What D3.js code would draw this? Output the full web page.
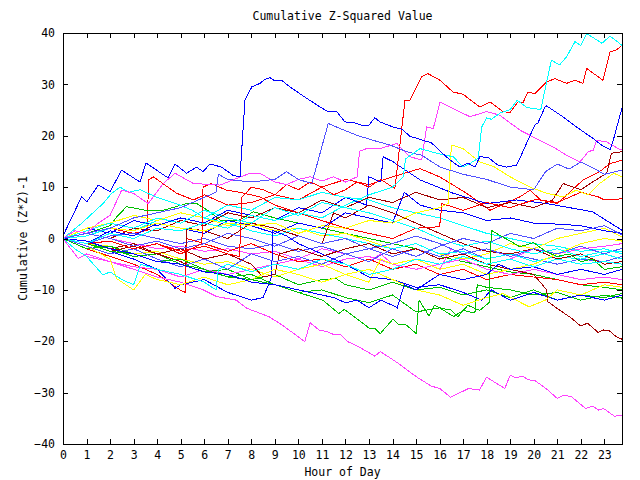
<!DOCTYPE html>
<html>
<head>
<meta charset="utf-8">
<script src="https://cdnjs.cloudflare.com/ajax/libs/d3/7.8.5/d3.min.js"></script>
<style>
  html, body { margin: 0; padding: 0; background: #fff; }
  svg { display: block; }
  text { font-family: "DejaVu Sans Mono", "Liberation Mono", monospace; font-size: 11.5px; fill: #000; }
</style>
</head>
<body>
<svg id="chart" width="640" height="480"></svg>
<script>
// ---------- DATA (hour of day, cumulative (Z*Z)-1) ----------
const chartTitle = "Cumulative Z-Squared Value";
const xTitle = "Hour of Day";
const yTitle = "Cumulative (Z*Z)-1";
const hourTicks = [0,1,2,3,4,5,6,7,8,9,10,11,12,13,14,15,16,17,18,19,20,21,22,23];
const valueTicks = [-40,-30,-20,-10,0,10,20,30,40];

const blueA = [[0,0.5],[0.79,8.1],[1.01,7.1],[1.5,10.4],[2.0,9.1],[2.49,13.3],[3.27,11.0],[3.53,14.7],[4.46,11.8],[4.76,14.5],[5.25,12.7],[5.68,13.9],[5.95,13.0],[6.24,14.5],[6.74,13.9],[7.22,12.3],[7.52,12.0],[7.63,19.8],[7.73,26.9],[8.02,29.5],[8.37,30.2],[8.58,31.0],[8.79,31.3],[9.0,30.7],[9.29,30.8],[9.64,29.5],[10.35,27.3],[10.92,25.6],[11.26,24.7],[11.63,24.7],[11.98,22.7],[12.4,22.5],[12.76,21.9],[12.97,21.9],[13.25,23.5],[13.47,22.7],[14.02,21.7],[14.39,21.3],[14.74,19.9],[15.17,19.3],[15.66,18.6],[16.02,17.0],[16.44,15.3],[16.86,13.9],[17.2,14.7],[17.5,13.9],[17.71,15.9],[18.05,15.8],[18.48,14.3],[18.85,13.9],[19.27,14.3],[19.41,15.6],[19.7,18.6],[20.05,22.1],[20.18,22.5],[20.48,25.6],[20.55,25.8],[21.24,23.7],[21.82,21.7],[22.51,19.5],[22.88,18.2],[23.24,17.3],[23.36,18.8],[23.75,25.4]];
const redB = [[0,0],[1,-1],[2,-0.5],[3,-2],[4,-1],[5,-2.5],[6,-1.5],[7,-3],[7.5,-3.5],[7.6,8],[8,10],[8.5,9.5],[9,8.5],[9.5,10.5],[10,9.5],[10.5,11],[11,10],[11.5,8.5],[12,9.5],[12.5,11],[13,10],[13.5,11.5],[14.1,9.7],[14.53,26.9],[14.74,26.9],[15.24,31.5],[15.5,32.1],[16.02,30.8],[16.57,28.5],[16.99,28.1],[17.71,25.6],[18.14,26.6],[18.69,24.7],[18.99,24.5],[19.33,26.6],[19.54,26.4],[19.75,28.5],[20.05,28.2],[20.55,30.5],[20.9,31.1],[21.4,30.2],[21.75,30.8],[22.09,30.2],[22.25,33.1],[22.94,30.8],[23.24,36.3],[23.52,36.7],[23.75,37.6]];
const cyanC = [[0,0],[1,-1],[2,1],[3,0],[4,2],[5,1.5],[6,3],[7,2],[8,4.5],[9,3.5],[10,5],[11,4],[12,6.5],[13,8.5],[14,10],[14.46,12],[14.55,15.5],[15.17,17.5],[15.88,16.6],[16.58,15.9],[17.0,13.9],[17.29,14.6],[17.64,15.6],[17.79,21.7],[18.0,23.5],[18.2,23.2],[18.6,24.5],[19.0,25.1],[19.3,26.9],[19.7,25.5],[20.3,25.1],[20.55,30.5],[20.75,34.7],[21.1,33.8],[21.4,35.4],[21.75,38.3],[22.0,37.6],[22.25,39.9],[22.9,38.0],[23.24,39.4],[23.75,37.6]];
const magentaD = [[0,0],[0.5,1.5],[1,1],[1.5,3],[2,4.5],[2.49,9.4],[2.99,8.8],[3.62,6.8],[4.26,10.7],[4.76,12.7],[5.54,10.7],[6.67,10.4],[7.94,12.7],[8.37,12.7],[9,11],[9.5,10.5],[10,11.5],[10.5,12],[11,11.2],[11.5,12],[12,11],[12.5,12],[12.6,17],[12.9,17.5],[13.47,17.5],[14.18,18.5],[14.74,15.9],[15.24,15.3],[15.45,21.7],[15.73,21.4],[16.02,26.6],[16.58,25.3],[17.29,23.7],[18.0,24.7],[18.56,24.0],[19.41,21.1],[20.26,19.1],[20.83,17.8],[21.4,16.2],[21.96,14.9],[22.32,16.9],[22.53,17.2],[22.67,19.1],[23.1,18.8],[23.66,17.3],[23.75,17.4]];
const lightBlueE = [[0,0],[1,1],[2,2],[3,4],[4,5],[5,6],[6,8],[6.5,9],[6.6,12.5],[7,11.5],[8,11],[9,11.5],[9.5,13],[10,11.5],[10.57,10.7],[11.27,22.4],[11.77,21.4],[12.48,20.1],[13.18,19.1],[13.89,18.2],[14.6,16.9],[15.24,16.2],[16.02,13.9],[17,12.5],[18,11.5],[19,10],[20,9.5],[20.5,13],[21,14.5],[21.5,13.5],[22,14.9],[22.5,13.8],[23,12.5],[23.75,13.3]];
const magentaF = [[0,0],[0.5,-2],[1,-3.5],[2,-4.5],[3,-6],[4,-7.5],[5,-8.5],[5.96,-10],[6.53,-11.3],[7.36,-12.0],[7.82,-13.6],[8.74,-15.2],[9.2,-16.5],[9.81,-18.5],[10.27,-20.1],[10.5,-16.4],[10.88,-17.8],[11.27,-18.2],[11.5,-18.7],[11.8,-18.7],[12.11,-20.1],[12.57,-21.1],[13.25,-22.9],[13.48,-22.0],[14.25,-24.3],[15.01,-26.9],[15.63,-28.7],[16.01,-29.2],[16.47,-30.9],[17.23,-29.2],[17.69,-29.5],[18.0,-27.0],[18.77,-29.2],[19.0,-26.6],[19.23,-27.1],[19.53,-26.8],[19.76,-27.5],[20.07,-27.7],[20.6,-29.5],[20.99,-31.1],[21.29,-30.5],[21.6,-30.8],[22.21,-33.1],[22.51,-32.6],[22.74,-33.4],[22.97,-33.1],[23.43,-34.6],[23.75,-34.4]];
const darkRedG = [[0,0],[1,-1],[2,-2.5],[3,-1.5],[4,-3],[5,-2],[6,-4],[7,-3],[8,-5],[8.5,-7.5],[9,-7],[9.2,-3],[10,-2],[11,-3.5],[12,-2],[13,-1],[14,-3],[15,-2],[16,-4],[17,-3],[18,-5],[19,-6],[20,-7],[20.55,-10],[20.6,-12.3],[20.99,-13.6],[21.6,-15.5],[21.98,-17.0],[22.29,-16.5],[22.74,-18.3],[22.97,-17.8],[23.2,-17.9],[23.5,-19.1],[23.75,-19.6]];
const greenH = [[0,0],[1,-1],[2,-2.5],[3,-3],[4,-4.5],[5,-5],[6,-6],[7,-7.5],[8,-8],[9,-9],[10,-10.5],[11.04,-12],[11.72,-14.6],[11.95,-13.8],[12.57,-15.9],[13.02,-17.5],[13.25,-17.5],[13.48,-18.5],[14.02,-15.7],[14.25,-16.7],[14.55,-16.7],[15.01,-18.5],[15.13,-12],[15.55,-15.1],[15.78,-13],[16.08,-13.6],[16.47,-13.9],[16.78,-15.2],[17.2,-13],[17.7,-14],[18.1,-12.5],[18.2,1.6],[18.6,0.5],[19.0,-0.5],[19.41,-1.6],[20,-0.8],[20.5,-2.5],[21,-3.5],[21.5,-3],[22,-4.5],[22.5,-4],[23,-6],[23.75,-5.5]];
const yellowI = [[0,0],[1,1],[2,2],[3,1.5],[4,3],[5,2],[6,1.5],[7,3],[8,2.5],[9,3],[10,1],[11,2.5],[12,2],[13,3.5],[14,3],[15,5],[16,6],[16.37,6.8],[16.5,18.2],[17,17.5],[17.7,14.9],[18.3,14],[19,12],[19.84,10],[20.55,8.8],[21.25,8.1],[21.8,9.4],[22.3,8.5],[22.8,10.7],[23.4,12.7],[23.75,12]];
const blueJ = [[0,0],[1,2],[2,1],[3,3.5],[4,2.5],[5,4],[6,3],[7,5.5],[8,4.5],[9,3.5],[10,6],[11,5],[12,8],[12.9,6.5],[13,12],[13.5,11],[13.6,15.9],[14,15],[15.17,11.4],[16.58,8.8],[18,6.8],[19.27,7.5],[20.55,6.8],[22.5,5.2],[23.75,1.6]];
const blueK = [[0,0],[1,-1],[2,1.5],[3,0.5],[4,3],[5,2],[6,1],[7,3.5],[8,2.5],[9,1],[10,3],[11,2],[12,5],[13,4],[14,3],[14.5,9],[15.17,6.5],[16,5.5],[17,5],[18,3.5],[19,4],[20,3],[21,2.8],[22,2.5],[23,1.5],[23.75,1]];
const lightBlueL = [[0,0],[1,-1.5],[2,-3],[3,-2],[4,-4],[5,-5.5],[6,-4],[7,-6],[8,-3],[9,-4.5],[10,-3.5],[11,-5],[12,-3],[13,-4.5],[14,-2],[15,-3.5],[16,-1.5],[17,0],[18,-1],[19,1],[20,0],[21,2],[22,1.5],[23,2.5],[23.75,0.7]];
const lightBlueM = [[0,0],[1,1],[2,0],[3,-1.5],[4,-0.5],[5,-2],[6,-1],[7,1],[8,0],[9,-1.5],[10,0.5],[11,-1],[12,0],[13,-2],[14,-1],[15,0.5],[16,-1],[17,-3],[18,-2],[19,-3.5],[20,-2],[21,-3],[22,-1.5],[23,-3],[23.75,-1.9]];
const cyanN = [[0,0],[1,1.5],[2,3],[3,2],[4,4],[5,3],[6,5.5],[7,4],[8,3],[9,6],[10,4.5],[11,7],[12,6],[13,5],[14,3.5],[15,2],[16,0],[17,-1.5],[18,-0.5],[19,-2],[20,-3],[21,-2],[22,-3.5],[23,-2.5],[23.75,-2.6]];
const darkRedO = [[0,0],[1,-0.5],[2,-2],[3,-1],[4,-3],[5,-4.5],[5.2,-5],[5.25,2],[6,1.5],[7,0],[8,3],[9,2],[10,0.5],[11,-1],[11.5,5],[12,4],[13,6.5],[14,5],[15,3],[16,1],[17,-1],[18,-2.5],[19,-3],[20,-2],[21,-4],[22,-3],[23,-5],[23.75,-4.5]];
const greenP = [[0,0],[1,-1],[2,-2],[3,-3.5],[4,-3],[5,-5],[6,-6.5],[7,-6],[8,-8],[9,-7],[10,-9],[11,-8],[11.6,-7.8],[12,-9],[13,-10],[14,-8.5],[15,-10],[16,-9.5],[17,-11],[18,-10],[19,-11.5],[20,-10],[21,-12],[22,-11],[23,-11.5],[23.75,-10.7]];
const greenQ = [[0,0],[1,-2],[2,-1.5],[3,-3],[4,-4.5],[5,-4],[6,-6],[7,-7.5],[8,-7],[9,-9],[10,-10.5],[11,-10],[12,-11.5],[13,-12.5],[14,-11],[15,-14.3],[16,-13.5],[16.6,-15.2],[17,-14],[17.5,-14.5],[17.6,-9],[18,-9.5],[19,-10],[20,-11],[21,-10.5],[22,-12],[23,-11],[23.75,-11.6]];
const yellowR = [[0,0],[1,-1.5],[2,-4],[2.28,-7.8],[3,-10],[3.5,-7],[4,-8],[5,-9],[6,-7.5],[7,-9],[8,-8],[9,-6],[10,-7],[11,-8.5],[12,-7],[13,-6],[14,-8],[15,-10],[16,-11],[17,-13],[18,-11.5],[18.7,-10.7],[19.8,-13.3],[20.5,-12],[21,-10],[22,-11],[23,-9],[23.75,-9.5]];
const redS = [[0,0],[1,-2],[2,-3.5],[3,-5],[4,-7],[4.97,-10],[5.2,-10.5],[5.25,0],[6,-1],[7,-2.5],[8,-1],[9,-3],[10,-4.5],[11,-4],[12,-5.5],[13,-4],[14,-6],[15,-5],[16,-7],[17,-6],[18,-8],[19,-7],[20,-7.5],[21,-8],[22,-9],[23,-8.5],[23.75,-9]];
const blueT = [[0,0],[1,-1],[2,-2.5],[3,-4],[4,-6],[4.76,-9.7],[5,-9],[6,-8],[7,-10.5],[8,-12],[8.5,-11.5],[8.87,-7.4],[8.9,1.6],[9.5,0.5],[10,-1],[11,-3],[12,-5],[13,-7.5],[14,-8],[15,-9.5],[16,-9],[17,-10.5],[17.8,-12],[18.2,-10],[19,-12],[20,-10.5],[21,-12],[22,-11],[23,-12],[23.75,-11]];
const blueU = [[0,0],[1,-0.5],[2,-2],[3,-3],[4,-4.5],[5,-5],[6,-6.5],[7,-7],[8,-8.5],[9,-9],[10,-10],[11,-11],[11.5,-11.5],[12,-12.5],[12.5,-12],[13,-13.5],[13.5,-12],[14,-13],[14.2,-13.5],[14.5,-9],[15,-10],[16,-7],[17,-8],[18,-7],[18.5,-5],[19,-6],[20,-5.5],[21,-7],[22,-6],[23,-7],[23.75,-6]];
const cyanV = [[0,0],[0.5,-2],[1,-3.5],[1.7,-7.1],[2,-6.5],[2.5,-8],[3,-9],[3.3,-5],[4,-6],[5,-7],[6,-8.5],[6.5,-10],[6.6,-6],[7,-5],[8,-6.5],[9,-5],[10,-6],[11,-4],[12,-5],[13,-7],[14,-6],[15,-4],[16,-5],[17,-3.5],[18,-5],[19,-4],[20,-5.5],[21,-4],[22,-5],[23,-4.5],[23.75,-5]];
const magentaW = [[0,0],[1,1],[2,0],[3,-1],[4,-2],[5,-1.5],[6,-2.5],[7,-2],[8,-3],[9,-2.5],[10,-4],[11,-2],[12,-3],[13,-4.5],[13.5,-3],[14,-5],[15,-4],[16,-6],[16.5,-2],[17,-3],[18,-5],[19,-4],[20,-2],[21,-3],[22,-2],[23,-1.5],[23.75,-1]];
const yellowX = [[0,0],[1,2],[2,3],[3,4.5],[4,3.5],[5,5],[6,4],[7,2.5],[8,3],[9,1.5],[10,2],[11,0.5],[12,1],[13,-0.5],[14,-2],[15,-1],[16,-3],[17,-4],[18,-3],[19,-1],[20,-2],[21,0],[22,1],[23,2],[23.75,0.3]];
const greenY = [[0,0],[1,1],[2,2.5],[2.28,4.2],[2.7,6.2],[3.5,5.5],[4.27,5.5],[5.25,6.8],[5.68,6.8],[6.24,5.2],[6.67,3.6],[7.5,3.6],[8.09,5.2],[9,4],[10,3],[11,2],[12,1],[13,0],[14,-1],[15,-2],[16,-3.5],[17,-4.5],[18,-5.5],[19,-6.5],[20,-7],[21,-8],[22,-9],[23,-9.5],[23.75,-10]];
const cyanZ = [[0,0],[0.8,3],[1.7,6.8],[2.07,8.8],[2.42,10],[2.8,9],[3.27,9.5],[4,8],[4.8,6.8],[5.5,5.5],[6,4],[7,3],[8,1.5],[9,0.5],[10,2],[11,1],[12,0],[13,-1],[14,-2],[15,-1],[16,-3],[17,-2.5],[18,-4],[19,-3],[20,-4.5],[21,-3.5],[22,-4],[23,-3],[23.75,-4]];
const lightBlueAA = [[0,0],[1,-1],[2,0.5],[3,1],[4,0],[5,-1],[6,0],[7,-1.5],[8,-2],[9,-1],[10,-2.5],[11,-1.5],[12,-3],[13,-2],[14,-3.5],[15,-2],[16,-3.5],[17,-2],[18,-4],[19,-3],[20,-4],[21,-5],[22,-4],[23,-4.5],[23.75,-3.5]];
const redAB = [[0,0],[1,0.5],[2,2],[3,1],[3.6,1.6],[3.62,11.4],[3.84,12],[4.83,8.8],[5.54,7.5],[6,8.5],[7,6.5],[8,7],[9,8.5],[10,7.5],[11,10],[12,11.5],[13,10.5],[14,12],[15.17,13.6],[16,12],[17.15,8.8],[18.14,5.5],[19.41,8.1],[19.84,9.4],[20.3,7.5],[21,6.8],[22.1,11.4],[22.67,12.7],[22.88,13.3],[23.24,14.6],[23.52,14.9],[23.75,15.3]];
const redAC = [[0,0],[1,-1],[2,-0.5],[3,-2],[4,-1],[5,-3],[5.9,-1],[5.95,10],[6.3,10.7],[6.95,9.4],[7.5,9],[8.37,8.1],[9,6.5],[10,5],[11,3.5],[12,2],[13,1],[14,0],[15,2],[16,2.3],[16.1,6.8],[17,5.5],[18,7],[19,6],[20,7.5],[20.26,7.5],[21,7],[22,9],[22.74,8.1],[23.0,7.5],[23.45,7.5],[23.75,7.8]];
const darkRedAD = [[0,0],[1,1],[2,0],[3,2],[4,1.5],[5,3.5],[6,2.5],[7,5],[8,4],[9,6],[10,5],[11,7.5],[12,6],[13,8],[14,7],[15,9],[16,7.5],[17,8],[18,6],[19,7],[20,6],[20.8,7.5],[21.25,10.7],[22,9.5],[22.5,11],[23.1,12.7],[23.3,16.6],[23.75,16.9]];
const yellowAE = [[0,0],[1,-1],[2,-1.5],[3,-3],[4,-2.5],[5,-4],[6,-5],[7,-4.5],[8,-6],[9,-7.5],[10,-6],[11,-5],[12,-7],[13,-8.5],[13.5,-4],[14,-5],[15,-4],[16,-6],[17,-5],[18,-7],[19,-6],[20,-5],[21,-3],[22,-1],[23,0],[23.75,-0.5]];
const cyanAF = [[0,0],[1,0.5],[2,2],[3,1.5],[4,3.5],[5,5],[6,4],[7,6.5],[8,5.5],[9,8],[10,7.5],[11,9],[12,8],[13,7.5],[14,6],[15,5],[16,4],[17,2.5],[18,1],[19,0],[20,-1],[21,-1.5],[22,-2.5],[23,-2],[23.75,-3]];
const magentaAG = [[0,0],[0.65,-3.9],[1,-3],[2,-4.5],[3,-5.5],[4,-6],[5,-7.5],[6,-6],[7,-7],[8,-6],[9,-5],[10,-4],[11,-5.5],[12,-4],[13,-3.5],[14,-5],[15,-6],[16,-5],[17,-4],[18,-6],[19,-7],[20,-6],[21,-7],[22,-8],[23,-7.5],[23.75,-8]];

const seriesList = [redAB, greenY, blueJ, magentaW, cyanAF, darkRedAD, yellowX, lightBlueAA,
  redS, greenP, blueK, magentaAG, cyanZ, darkRedO, yellowAE, lightBlueM,
  redAC, greenQ, blueT, magentaF, cyanN, darkRedG, yellowR, lightBlueL,
  redB, greenH, blueU, magentaD, cyanV, yellowI, lightBlueE, cyanC, blueA];
const seriesColors = ["#ff0000","#00c000","#0000ff","#ff40ff","#00ffff","#a00000","#ffff00","#5050ff",
  "#ff0000","#00c000","#0000ff","#ff40ff","#00ffff","#a00000","#ffff00","#5050ff",
  "#ff0000","#00c000","#0000ff","#ff40ff","#00ffff","#a00000","#ffff00","#5050ff",
  "#ff0000","#00c000","#0000ff","#ff40ff","#00ffff","#ffff00","#5050ff","#00ffff","#0000ff"];

// ---------- CHART ----------
const svg = d3.select("#chart");
const mL = 63, mR = 622, mT = 33, mB = 444;
const x = d3.scaleLinear().domain([0, 23.75]).range([mL, mR]);
const y = d3.scaleLinear().domain([-40, 40]).range([mB, mT]);

svg.append("defs").append("clipPath").attr("id", "plotclip")
  .append("rect").attr("x", mL).attr("y", mT).attr("width", mR - mL).attr("height", mB - mT);

const line = d3.line().x(d => x(d[0])).y(d => y(d[1]));
const g = svg.append("g").attr("clip-path", "url(#plotclip)");
seriesList.forEach((s, i) => {
  g.append("path").datum(s)
    .attr("d", line)
    .attr("fill", "none")
    .attr("stroke", seriesColors[i])
    .attr("stroke-width", 1)
    .attr("shape-rendering", "crispEdges");
});

// axes with inward ticks
const axB = svg.append("g").attr("transform", `translate(0,${mB})`)
  .call(d3.axisBottom(x).tickValues(hourTicks).tickSizeInner(-5).tickSizeOuter(0).tickPadding(7).tickFormat(d3.format("d")));
const axT = svg.append("g").attr("transform", `translate(0,${mT})`)
  .call(d3.axisTop(x).tickValues(hourTicks).tickSizeInner(-5).tickSizeOuter(0).tickFormat(""));
const axL = svg.append("g").attr("transform", `translate(${mL},0)`)
  .call(d3.axisLeft(y).tickValues(valueTicks).tickSizeInner(-5).tickSizeOuter(0).tickPadding(8).tickFormat(d3.format("d")));
const axR = svg.append("g").attr("transform", `translate(${mR},0)`)
  .call(d3.axisRight(y).tickValues(valueTicks).tickSizeInner(-5).tickSizeOuter(0).tickFormat(""));

[axB, axT, axL, axR].forEach(a => {
  a.selectAll("path.domain").remove();
  a.selectAll("line").attr("stroke", "#000").attr("shape-rendering", "crispEdges");
  a.selectAll("text").attr("fill", "#000").style("font-family", '"DejaVu Sans Mono", monospace').style("font-size", "11.5px");
});

// frame
svg.append("rect")
  .attr("x", mL + 0.5).attr("y", mT + 0.5)
  .attr("width", mR - mL).attr("height", mB - mT)
  .attr("fill", "none").attr("stroke", "#000").attr("stroke-width", 1);

// titles
svg.append("text").attr("x", (mL + mR) / 2).attr("y", 20).attr("text-anchor", "middle").text(chartTitle);
svg.append("text").attr("x", (mL + mR) / 2).attr("y", 476).attr("text-anchor", "middle").text(xTitle);
svg.append("text").attr("transform", `translate(26.5,${(mT + mB) / 2}) rotate(-90)`).attr("text-anchor", "middle").text(yTitle);
</script>
</body>
</html>
